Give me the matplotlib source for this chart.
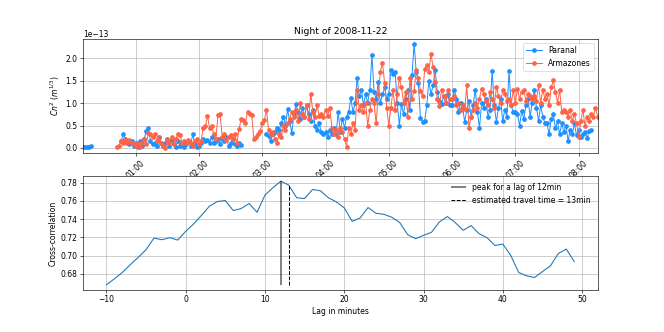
import numpy as np
import pandas as pd
import matplotlib
matplotlib.use('Agg')
import matplotlib.pyplot as plt
import matplotlib.dates as mdates
from matplotlib.ticker import MultipleLocator, FormatStrFormatter

######################### Data ##################################################
DAY = '2008-11-23'
STEP = '2min'

# Paranal Cn2 (x1e-13), three runs separated by gaps
paranal_a_start = '00:10'
paranal_a = [0.03, 0.02, 0.02, 0.03, 0.04]

paranal_b_start = '00:46'
paranal_b = [0.15, 0.30, 0.20, 0.12, 0.08, 0.15, 0.05,
             0.10, 0.03, 0.15, 0.05, 0.20, 0.38, 0.45, 0.15, 0.08, 0.12, 0.05, 0.25, 0.10, 0.05,
             0.12, 0.20, 0.05, 0.18, 0.08, 0.02, 0.15, 0.05, 0.10, 0.03, 0.08, 0.15, 0.05, 0.30, 0.10, 0.02,
             0.05, 0.10, 0.20, 0.15, 0.18, 0.12, 0.25, 0.10, 0.15, 0.20, 0.08, 0.22, 0.15, 0.25, 0.05,
             0.10, 0.20, 0.08, 0.05, 0.10, 0.07]

paranal_c_start = '03:04'
paranal_c = [0.30, 0.27, 0.15, 0.30, 0.35, 0.45, 0.40, 0.55, 0.70, 0.50, 0.86, 0.60, 0.33,
             0.75, 0.97, 0.80, 0.65, 0.90, 0.70, 0.95, 0.75, 0.60, 0.85, 0.50, 0.40, 0.55, 0.35, 0.30,
             # 04:00
             0.35, 0.25, 0.40, 0.30, 0.45, 0.30, 0.80, 0.35, 0.65, 0.45, 0.70, 0.80, 1.12, 0.80, 1.00,
             1.56, 1.15, 1.30, 0.95, 1.20, 1.00, 1.30, 2.07, 1.25, 1.10, 1.47, 1.00, 1.20, 1.35, 1.10,
             # 05:00
             1.20, 1.74, 1.65, 1.70, 1.00, 0.50, 0.97, 0.75, 1.10, 1.30, 0.85, 1.63, 2.32, 1.70, 1.45,
             0.67, 0.58, 0.60, 0.95, 1.50, 1.20, 1.40, 1.74, 1.25, 1.05, 0.98, 1.15, 1.00, 1.20, 0.95,
             # 06:00
             0.95, 1.30, 1.10, 0.80, 1.00, 0.90, 0.58, 0.85, 1.05, 0.70, 0.95, 1.30, 0.80, 0.45, 1.00,
             0.90, 1.10, 0.70, 0.85, 1.72, 0.95, 0.58, 0.90, 1.10, 0.60, 0.85, 0.70, 1.72, 0.95, 0.80,
             # 07:00
             0.80, 0.75, 0.50, 0.82, 0.65, 0.95, 1.10, 0.70, 1.00, 1.30, 0.90, 0.60, 0.95, 0.70, 0.55,
             0.55, 0.30, 0.65, 0.75, 0.45, 0.60, 0.30, 0.55, 0.35, 0.50, 0.16, 0.40, 0.30, 0.55, 0.28,
             # 08:00
             0.40, 0.25, 0.30, 0.35, 0.22, 0.38, 0.40]

# Armazones Cn2 (x1e-13), one run
armazones_start = '00:42'
armazones = [0.02, 0.05, 0.15, 0.10, 0.20, 0.12, 0.18, 0.10, 0.08,
             # 01:00
             0.05, 0.10, 0.02, 0.12, 0.20, 0.08, 0.33, 0.30, 0.25, 0.32, 0.15, 0.22, 0.10, 0.05, 0.00,
             0.18, 0.12, 0.25, 0.08, 0.20, 0.30, 0.28, 0.12, 0.15, 0.10, 0.18, 0.12, 0.05, 0.15, 0.20,
             # 02:00
             0.08, 0.15, 0.45, 0.48, 0.72, 0.45, 0.50, 0.30, 0.20, 0.74, 0.75, 0.25, 0.30, 0.18, 0.25,
             0.28, 0.20, 0.30, 0.12, 0.42, 0.65, 0.62, 0.55, 0.80, 0.76, 0.74, 0.20, 0.25, 0.30, 0.38,
             # 03:00
             0.55, 0.62, 0.85, 0.40, 0.30, 0.35, 0.20, 0.12, 0.30, 0.25, 0.50, 0.40, 0.55, 0.65, 0.80,
             0.70, 0.85, 0.60, 1.00, 0.75, 0.70, 0.95, 0.65, 1.20, 0.80, 0.70, 0.95, 0.72, 0.75, 0.68,
             # 04:00
             0.85, 0.72, 0.90, 0.45, 0.30, 0.40, 0.25, 0.45, 0.35, 0.20, 0.03, 0.45, 0.30, 0.55, 0.40,
             1.30, 0.85, 0.95, 0.80, 1.00, 0.50, 0.85, 1.10, 1.00, 0.55, 1.20, 1.70, 1.90, 1.45, 0.90,
             # 05:00
             0.50, 0.90, 1.30, 0.85, 1.20, 1.56, 1.35, 1.00, 1.25, 0.70, 1.56, 1.10, 1.28, 1.73, 1.55,
             1.28, 1.16, 1.75, 1.86, 1.70, 2.10, 1.80, 1.47, 1.10, 0.93, 1.30, 1.15, 1.00, 1.30, 1.10,
             # 06:00
             1.10, 1.16, 0.95, 1.00, 0.85, 0.95, 0.86, 1.40, 0.45, 0.70, 0.85, 1.00, 0.90, 1.10, 1.32,
             1.20, 1.05, 0.95, 1.25, 1.10, 0.90, 1.36, 1.15, 1.00, 1.30, 1.20, 1.05, 1.10, 0.95, 1.30,
             # 07:00
             1.00, 1.32, 1.10, 1.25, 1.30, 1.05, 1.20, 1.15, 1.10, 1.15, 1.05, 1.40, 1.00, 1.30, 1.10,
             1.20, 0.95, 1.35, 1.51, 1.25, 1.00, 1.30, 0.80, 0.85, 0.80, 0.70, 0.85, 0.60, 0.75, 0.55,
             # 08:00
             0.25, 0.60, 0.85, 0.50, 0.70, 0.60, 0.75, 0.70, 0.90, 0.70]

# cross-correlation between the two sites vs lag (minutes)
lags = np.arange(-10, 50)
xcorr = [0.668, 0.6745, 0.6815, 0.690, 0.698, 0.7065, 0.7193, 0.7175, 0.7197, 0.7171,
         0.7267, 0.7348, 0.7443, 0.7543, 0.7594, 0.7605, 0.7495, 0.7517, 0.7572, 0.7476,
         0.7664, 0.7745, 0.7818, 0.7774, 0.7635, 0.7627, 0.7726, 0.7712, 0.7635, 0.759,
         0.7524, 0.7377, 0.7414, 0.7528, 0.7465, 0.7454, 0.7421, 0.7363, 0.723, 0.7186,
         0.7223, 0.7256, 0.737, 0.7429, 0.7363, 0.7278, 0.733, 0.7241, 0.7197, 0.7112,
         0.7127, 0.7002, 0.6815, 0.6778, 0.676, 0.6826, 0.6888, 0.7024, 0.7072, 0.6936]
PEAK_LAG = 12
TRAVEL_LAG = 13
###################################################################


def series(start, vals):
    t = pd.date_range('{} {}'.format(DAY, start), periods=len(vals), freq=STEP)
    return t, np.array(vals) * 1e-13

# Paranal gaps are NaN so the line breaks
pt, pv = [], []
for st, vals in [(paranal_a_start, paranal_a), (paranal_b_start, paranal_b), (paranal_c_start, paranal_c)]:
    t, v = series(st, vals)
    pt.extend(list(t) + [t[-1] + pd.Timedelta(STEP)])
    pv.extend(list(v) + [np.nan])
at, av = series(armazones_start, armazones)

DPI = 664 / 12
fig, (ax1, ax2) = plt.subplots(2, 1, figsize=(12, 6), dpi=DPI)
fig.subplots_adjust(left=0.125, right=0.9, top=0.8825, bottom=0.1265, hspace=0.2)

# Top: Cn2 time series
ax1.plot(pt, pv, 'o-', color='dodgerblue', markersize=5, linewidth=1.3, label='Paranal')
ax1.plot(at, av, 'o-', color='tomato', markersize=5, linewidth=1.3, label='Armazones')
ax1.set_xlim(pd.Timestamp('{} 00:10'.format(DAY)), pd.Timestamp('{} 08:18'.format(DAY)))
ax1.set_ylim(-0.115e-13, 2.43e-13)
ax1.xaxis.set_major_locator(mdates.HourLocator())
ax1.xaxis.set_major_formatter(mdates.DateFormatter('%H:%M'))
plt.setp(ax1.get_xticklabels(), rotation=45)
ax1.set_ylabel(r'$Cn^2$ $(m^{1/3})$')
ax1.set_title('Night of 2008-11-22')
ax1.grid(True)
ax1.legend(loc='upper right')

# Bottom: cross-correlation
ax2.plot(lags, xcorr, linewidth=1.4)
i_peak = list(lags).index(PEAK_LAG)
i_trav = list(lags).index(TRAVEL_LAG)
ax2.vlines(PEAK_LAG, min(xcorr), xcorr[i_peak], colors='k', alpha=0.5, linewidth=2.5,
           label='peak for a lag of {}min'.format(PEAK_LAG))
ax2.vlines(TRAVEL_LAG, min(xcorr), xcorr[i_trav], colors='k', linestyles='dashed', linewidth=1.3,
           label='estimated travel time = {}min'.format(TRAVEL_LAG))
ax2.yaxis.set_major_locator(MultipleLocator(0.02))
ax2.yaxis.set_major_formatter(FormatStrFormatter('%.2f'))
ax2.set_xlabel('Lag in minutes')
ax2.set_ylabel('Cross-correlation')
ax2.grid(True)
ax2.legend(loc='upper right', frameon=False)

fig.savefig('out.png', dpi=DPI)
